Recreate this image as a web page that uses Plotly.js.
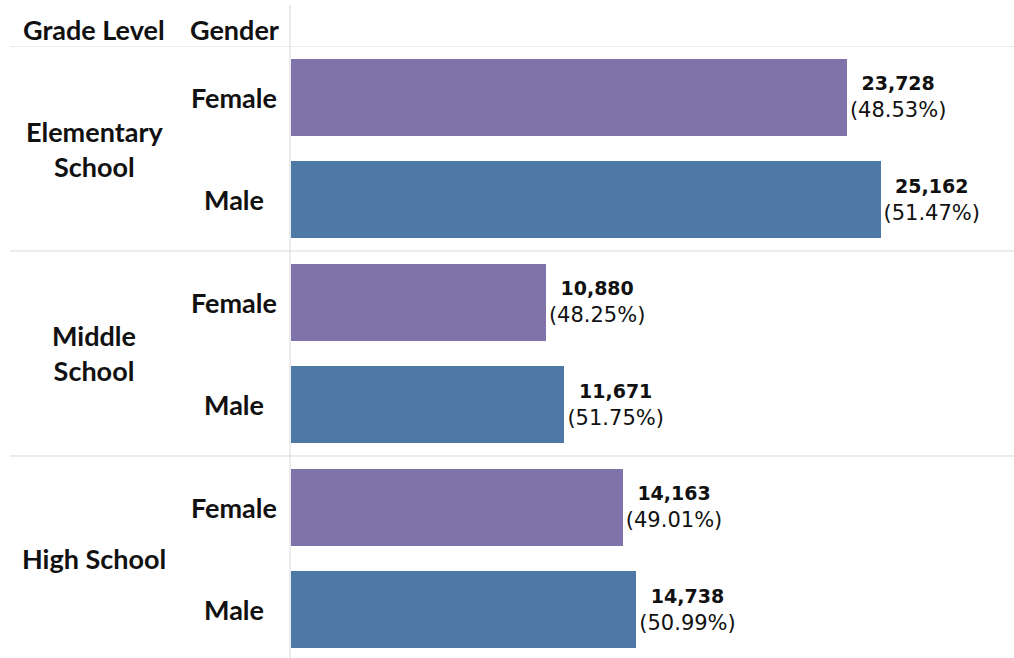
<!DOCTYPE html>
<html>
<head>
<meta charset="utf-8">
<script src="https://cdn.plot.ly/plotly-3.0.1.min.js"></script>
<style>
html,body{margin:0;padding:0;background:#fff;}
#chart{width:1014px;height:658px;}
</style>
</head>
<body>
<div id="chart"></div>
<script>
// Data
const gradeLevels = ["Elementary<br>School", "Middle<br>School", "High School"];
const genders = ["Female", "Male"];
const femaleValues = [23728, 10880, 14163];
const maleValues = [25162, 11671, 14738];
const femalePct = ["48.53%", "48.25%", "49.01%"];
const malePct = ["51.47%", "51.75%", "50.99%"];
const femaleColor = "#8073a9";
const maleColor = "#4e79a7";

const W = 1014, H = 658;
const plotLeft = 291, plotTop = 46;

// rows: for each grade, female row then male row
const fy = gradeLevels.map((g, i) => i * 2);
const my = gradeLevels.map((g, i) => i * 2 + 1);
const fmt = v => v.toLocaleString("en-US");
const dataFont = {family: "DejaVu Sans", size: 21, color: "#111"};
const label = (v, p) => '<b><span style="font-size:19px">' + fmt(v) + '</span></b><br>(' + p + ')';

const traces = [
  {
    type: "bar", orientation: "h",
    x: femaleValues, y: fy,
    marker: {color: femaleColor},
    width: 0.75,
    text: femaleValues.map((v, i) => label(v, femalePct[i])),
    textposition: "outside",
    cliponaxis: false,
    textfont: dataFont,
    hoverinfo: "none"
  },
  {
    type: "bar", orientation: "h",
    x: maleValues, y: my,
    marker: {color: maleColor},
    width: 0.75,
    text: maleValues.map((v, i) => label(v, malePct[i])),
    textposition: "outside",
    cliponaxis: false,
    textfont: dataFont,
    hoverinfo: "none"
  }
];

const labelFont = {family: "Lato", size: 27, color: "#111"};
const annotations = [];
annotations.push({xref: "paper", yref: "paper", x: 94 / W, y: 1 + 17 / (H - plotTop),
  text: "<b>Grade Level</b>", showarrow: false, xanchor: "center", yanchor: "middle", font: labelFont});
annotations.push({xref: "paper", yref: "paper", x: 234 / W, y: 1 + 17 / (H - plotTop),
  text: "<b>Gender</b>", showarrow: false, xanchor: "center", yanchor: "middle", font: labelFont});
gradeLevels.forEach((g, i) => {
  annotations.push({xref: "paper", yref: "y", x: 94 / W, y: i * 2 + 0.5,
    text: "<b>" + g.replace("<br>", "</b><br><b>") + "</b>", showarrow: false, align: "center",
    xanchor: "center", yanchor: "middle", font: labelFont});
  genders.forEach((s, j) => {
    annotations.push({xref: "paper", yref: "y", x: 234 / W, y: i * 2 + j,
      text: "<b>" + s + "</b>", showarrow: false, xanchor: "center", yanchor: "middle", font: labelFont});
  });
});

const lineColor = "#d8d8d8";
const shapes = [];
[-0.5, 1.5, 3.5].forEach(yv => {
  shapes.push({type: "line", xref: "paper", yref: "y", x0: 10 / W, x1: 1, y0: yv, y1: yv,
    line: {color: lineColor, width: 1}, layer: "below"});
});
shapes.push({type: "line", xref: "paper", yref: "paper", x0: 290 / W, x1: 290 / W,
  y0: -0.01, y1: 1 + 41 / (H - plotTop), line: {color: lineColor, width: 1}, layer: "below"});

const layout = {
  width: W, height: H,
  margin: {l: 0, r: 0, t: plotTop, b: 0, pad: 0},
  paper_bgcolor: "#fff", plot_bgcolor: "#fff",
  showlegend: false,
  bargap: 0,
  xaxis: {domain: [plotLeft / W, 1], range: [0, 30860], visible: false, fixedrange: true},
  yaxis: {range: [5.471, -0.5], visible: false, fixedrange: true},
  annotations: annotations,
  shapes: shapes
};

Plotly.newPlot("chart", traces, layout, {displayModeBar: false, staticPlot: true});
</script>
</body>
</html>
